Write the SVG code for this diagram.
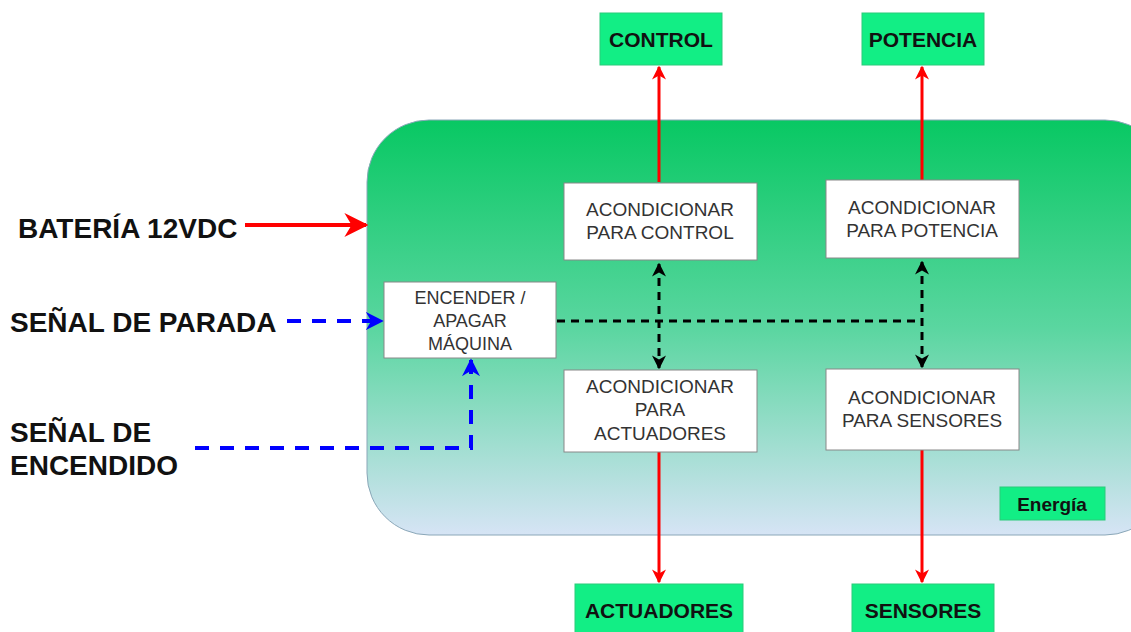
<svg xmlns="http://www.w3.org/2000/svg" width="1131" height="632" viewBox="0 0 1131 632">
<defs>
<linearGradient id="bg" x1="0" y1="0" x2="0" y2="1">
<stop offset="0" stop-color="#08C863"/>
<stop offset="0.5" stop-color="#5AD6A0"/>
<stop offset="1" stop-color="#D6E4F5"/>
</linearGradient>
<marker id="ar" viewBox="0 0 10 10" refX="9" refY="5" markerWidth="14" markerHeight="14" orient="auto-start-reverse" markerUnits="userSpaceOnUse">
<path d="M0,0 L10,5 L0,10 L3,5 Z" fill="#FF0000"/>
</marker>
<marker id="arBig" viewBox="0 0 10 10" refX="9" refY="5" markerWidth="24" markerHeight="24" orient="auto" markerUnits="userSpaceOnUse">
<path d="M0,0 L10,5 L0,10 L3,5 Z" fill="#FF0000"/>
</marker>
<marker id="ak" viewBox="0 0 10 10" refX="9" refY="5" markerWidth="14" markerHeight="14" orient="auto-start-reverse" markerUnits="userSpaceOnUse">
<path d="M0,0 L10,5 L0,10 L3,5 Z" fill="#000"/>
</marker>
<marker id="ab" viewBox="0 0 10 10" refX="9" refY="5" markerWidth="18" markerHeight="18" orient="auto" markerUnits="userSpaceOnUse">
<path d="M0,0 L10,5 L0,10 L3,5 Z" fill="#0000FF"/>
</marker>
</defs>
<style>
.w{fill:#fff;stroke:#888;stroke-width:1}
.g{fill:#12EE85;stroke:#2BCB7A;stroke-width:1}
.t{font-family:"Liberation Sans",Arial,sans-serif;font-size:19px;fill:#333;text-anchor:middle}
.b{font-family:"Liberation Sans",Arial,sans-serif;font-size:21px;font-weight:bold;fill:#111;text-anchor:middle}
.L{font-family:"Liberation Sans",Arial,sans-serif;font-size:28px;font-weight:bold;fill:#111}
.red{stroke:#FF0000;stroke-width:3;fill:none}
.kd{stroke:#000;stroke-width:3;stroke-dasharray:8 6;fill:none}
.bd{stroke:#0000FF;stroke-width:4;stroke-dasharray:14 11;fill:none}
</style>
<rect width="1131" height="632" fill="#fff"/>
<g id="energia-bg"><rect x="367" y="120" width="800" height="415" rx="62" fill="url(#bg)" stroke="#8AA7B8" stroke-width="1"/></g>
<g id="connectors">
<line class="red" x1="659" y1="182" x2="659" y2="67" marker-end="url(#ar)" stroke="#C81818"/>
<line class="red" x1="922" y1="180" x2="922" y2="67" marker-end="url(#ar)"/>
<line class="red" x1="659" y1="452" x2="659" y2="582" marker-end="url(#ar)"/>
<line class="red" x1="922" y1="450" x2="922" y2="582" marker-end="url(#ar)"/>
<line x1="245" y1="225" x2="366" y2="225" stroke="#FF0000" stroke-width="4" marker-end="url(#arBig)"/>
<line class="kd" x1="557" y1="321" x2="922" y2="321"/>
<line class="kd" x1="659" y1="264" x2="659" y2="368" marker-start="url(#ak)" marker-end="url(#ak)"/>
<line class="kd" x1="922" y1="262" x2="922" y2="367" marker-start="url(#ak)" marker-end="url(#ak)"/>
<line class="bd" x1="287" y1="321" x2="382" y2="321" marker-end="url(#ab)"/>
<polyline class="bd" points="195,448 471,448 471,360" marker-end="url(#ab)"/>
</g>
<g id="control"><rect class="g" x="600" y="13" width="122" height="52"/><text class="b" x="661" y="47">CONTROL</text></g>
<g id="potencia"><rect class="g" x="862" y="13" width="122" height="52"/><text class="b" x="923" y="47">POTENCIA</text></g>
<g id="actuadores"><rect class="g" x="575" y="584" width="168" height="50"/><text class="b" x="659" y="618">ACTUADORES</text></g>
<g id="sensores"><rect class="g" x="852" y="584" width="142" height="50"/><text class="b" x="923" y="618">SENSORES</text></g>
<g id="energia"><rect class="g" x="1000" y="487" width="105" height="33"/><text class="b" x="1052" y="511" style="font-size:19px">Energía</text></g>
<g id="ac-control"><rect class="w" x="564" y="183" width="193" height="77"/><text class="t" x="660" y="216">ACONDICIONAR</text><text class="t" x="660" y="239">PARA CONTROL</text></g>
<g id="ac-potencia"><rect class="w" x="826" y="180" width="193" height="78"/><text class="t" x="922" y="214">ACONDICIONAR</text><text class="t" x="922" y="237">PARA POTENCIA</text></g>
<g id="ac-actuadores"><rect class="w" x="564" y="370" width="193" height="82"/><text class="t" x="660" y="393">ACONDICIONAR</text><text class="t" x="660" y="416">PARA</text><text class="t" x="660" y="440">ACTUADORES</text></g>
<g id="ac-sensores"><rect class="w" x="826" y="369" width="193" height="81"/><text class="t" x="922" y="404">ACONDICIONAR</text><text class="t" x="922" y="427">PARA SENSORES</text></g>
<g id="encender"><rect class="w" x="384" y="282" width="172" height="76"/><text class="t" x="470" y="304" style="font-size:18px">ENCENDER /</text><text class="t" x="470" y="327" style="font-size:18px">APAGAR</text><text class="t" x="470" y="350" style="font-size:18px">MÁQUINA</text></g>
<g id="labels">
<text class="L" x="18" y="238">BATERÍA 12VDC</text>
<text class="L" x="10" y="332">SEÑAL DE PARADA</text>
<text class="L" x="10" y="442">SEÑAL DE</text>
<text class="L" x="10" y="475">ENCENDIDO</text>
</g>
</svg>
